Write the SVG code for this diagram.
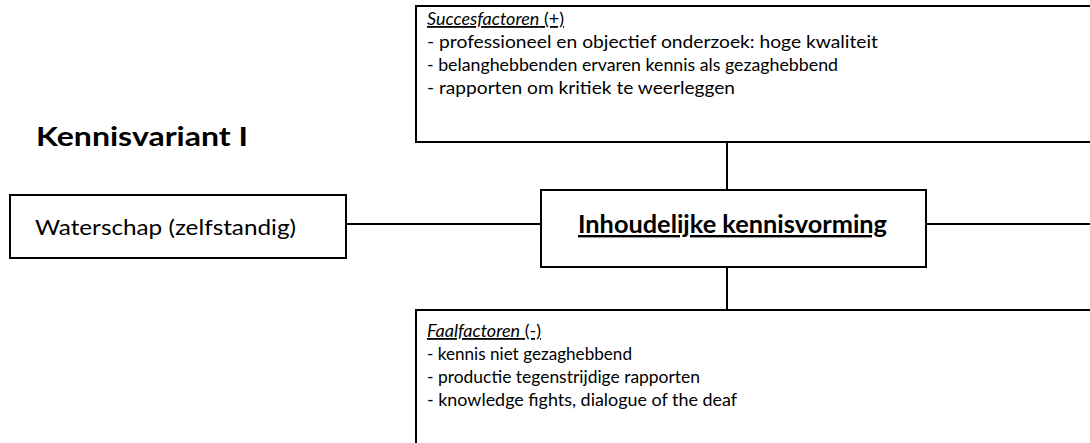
<svg xmlns="http://www.w3.org/2000/svg" width="1090" height="443" viewBox="0 0 1090 443">
<style>
  .box { fill: #fff; stroke: #000; stroke-width: 2; }
  .ln { stroke: #000; stroke-width: 2; fill: none; }
  .t { font-family: Lato, "Liberation Sans", sans-serif; font-size: 18px; fill: #000; }
  .big { font-family: Lato, "Liberation Sans", sans-serif; font-size: 22px; fill: #000; }
  .title { font-family: Lato, "Liberation Sans", sans-serif; font-size: 27px; font-weight: bold; fill: #000; }
  .hd { font-family: Lato, "Liberation Sans", sans-serif; font-size: 24px; font-weight: bold; fill: #000; text-decoration: underline; }
  .u { text-decoration: underline; }
  .i { font-style: italic; }
</style>
<rect width="1090" height="443" fill="#fff"/>
<g id="connectors">
  <line class="ln" x1="727" y1="142" x2="727" y2="190"/>
  <line class="ln" x1="727" y1="267" x2="727" y2="310"/>
  <line class="ln" x1="346" y1="224" x2="541" y2="224"/>
  <line class="ln" x1="926" y1="224" x2="1092" y2="224"/>
</g>
<g id="title">
  <text class="title" x="36" y="146" textLength="212" lengthAdjust="spacingAndGlyphs">Kennisvariant I</text>
</g>
<g id="succesfactoren">
  <rect class="box" x="416" y="6" width="690" height="136"/>
  <text class="t u" x="427" y="25" textLength="137" lengthAdjust="spacingAndGlyphs"><tspan class="i">Succesfactoren</tspan>  (+)</text>
  <text class="t" x="427" y="48" textLength="451" lengthAdjust="spacingAndGlyphs">- professioneel en objectief onderzoek: hoge kwaliteit</text>
  <text class="t" x="427" y="71" textLength="411" lengthAdjust="spacingAndGlyphs">- belanghebbenden ervaren kennis als gezaghebbend</text>
  <text class="t" x="427" y="94" textLength="308" lengthAdjust="spacingAndGlyphs">- rapporten om kritiek te weerleggen</text>
</g>
<g id="waterschap">
  <rect class="box" x="10" y="195" width="336" height="63"/>
  <text class="big" x="35" y="235" textLength="261" lengthAdjust="spacingAndGlyphs">Waterschap (zelfstandig)</text>
</g>
<g id="kennisvorming">
  <rect class="box" x="541" y="190" width="385" height="77"/>
  <text class="hd" x="578" y="233" textLength="309" lengthAdjust="spacingAndGlyphs">Inhoudelijke kennisvorming</text>
</g>
<g id="faalfactoren">
  <rect class="box" x="416" y="310" width="690" height="150"/>
  <text class="t u" x="427" y="337" textLength="114" lengthAdjust="spacingAndGlyphs"><tspan class="i">Faalfactoren</tspan> (-)</text>
  <text class="t" x="427" y="360" textLength="205" lengthAdjust="spacingAndGlyphs">- kennis niet gezaghebbend</text>
  <text class="t" x="427" y="383" textLength="273" lengthAdjust="spacingAndGlyphs">- productie tegenstrijdige rapporten</text>
  <text class="t" x="427" y="406" textLength="310" lengthAdjust="spacingAndGlyphs">- knowledge fights, dialogue of the deaf</text>
</g>
</svg>
